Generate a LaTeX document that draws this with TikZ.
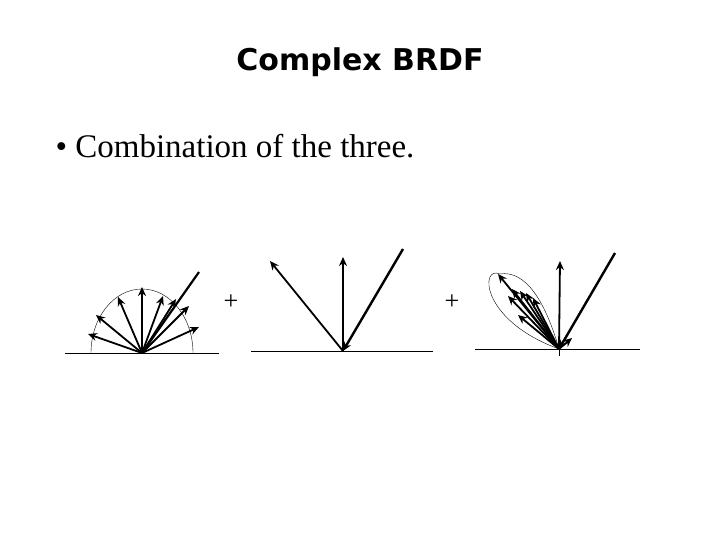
\documentclass[tikz,border=0pt]{standalone}
\usepackage{fontspec}
\setmainfont{Liberation Serif}
\newfontfamily\titlefont{DejaVu Sans}
\usetikzlibrary{arrows.meta}
\begin{document}
\begin{tikzpicture}[x=1pt,y=-1pt,
  ray/.style={line width=1.8pt,-{Stealth[length=9pt,width=8pt]}},
  inray/.style={line width=2.2pt},
  floor/.style={line width=0.8pt},
  thin/.style={line width=0.4pt}]
\useasboundingbox (0,0) rectangle (720,540);
\node[font=\titlefont\bfseries\fontsize{30}{34}\selectfont] (title) at (360,62) {Complex BRDF};
\node[anchor=west,font=\fontsize{33}{38}\selectfont] (bullet) at (52,146) {\textbullet\ Combination of the three.};
% diagram 1
\coordinate (c1) at (142,353);
\coordinate (f1a) at (65,353); \coordinate (f1b) at (219,353);
\draw[floor] (f1a) -- (f1b);
\draw[thin] (91,353) arc[start angle=180,end angle=360,x radius=51,y radius=64];
\foreach \p in {(88,334),(96,315),(118,297),(142,287),(163,296),(176,299),(189,306),(199,327)}
  \draw[ray] (c1) -- \p;
\coordinate (in1) at (199,272);
\draw[inray] (in1) -- (c1);
\node[font=\fontsize{26}{30}\selectfont] (plus1) at (231,302) {+};
% diagram 2
\coordinate (c2) at (343,351);
\coordinate (f2a) at (251,351); \coordinate (f2b) at (433,351);
\draw[floor] (f2a) -- (f2b);
\coordinate (t2a) at (270,261); \coordinate (t2b) at (343,257); \coordinate (in2) at (403,249);
\draw[ray] (c2) -- (t2a);
\draw[ray] (c2) -- (t2b);
\draw[ray,line width=2.4pt] (in2) -- (c2);
\node[font=\fontsize{26}{30}\selectfont] (plus2) at (452,302) {+};
% diagram 3
\coordinate (c3) at (559,349);
\coordinate (f3a) at (475,349); \coordinate (f3b) at (640,349);
\draw[floor] (f3a) -- (f3b);
\draw[thin] (559,343) -- (559,356);
\draw[thin] (c3) .. controls (480,320) and (480,265) .. (500,274)
  .. controls (525,270) and (545,300) .. (c3);
\foreach \p in {(498,274),(512,289),(520,291),(508,296),(526,293),(533,298),(518,315),(572,338)}
  \draw[ray] (c3) -- \p;
\coordinate (t3) at (560,261); \coordinate (in3) at (615,253);
\draw[ray] (c3) -- (t3);
\draw[ray,line width=2.4pt] (in3) -- (c3);
\end{tikzpicture}
\end{document}
